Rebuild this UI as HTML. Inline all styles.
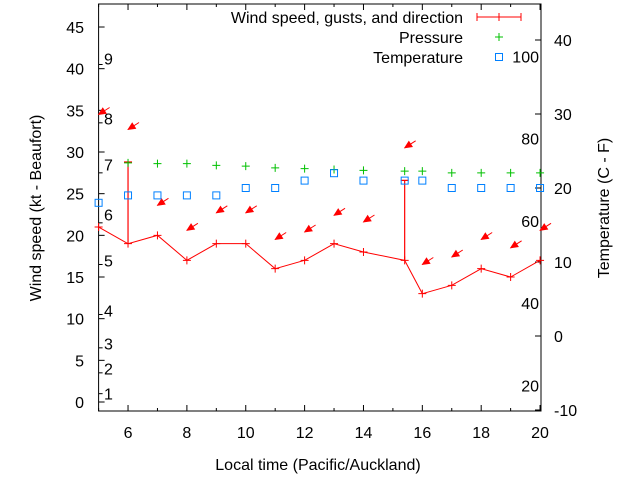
<!DOCTYPE html>
<html><head><meta charset="utf-8"><style>
body{margin:0;background:#fff}
svg{display:block;font-family:"Liberation Sans",sans-serif}
</style></head><body>
<svg id="chart" width="640" height="480" viewBox="0 0 640 480" xmlns="http://www.w3.org/2000/svg">
<g id="axes"></g>
<g id="marks"></g>
<g id="legend"></g>
</svg>
<script>
const hours=[5,6,7,8,9,10,11,12,13,14,15.4,16,17,18,19,20];
const wind=[21,19,20,17,19,19,16,17,19,18,17,13,14,16,15,17];
const gustHours=[6,15.4];
const gustBase=[19,17];
const gustValues=[28.8,26.6];
const dirArrowY=[34.5,32.7,23.6,20.6,22.7,22.7,19.5,20.4,22.4,21.6,30.5,16.5,17.4,19.5,18.5,20.6];
const pressure=[null,28.7,28.6,28.6,28.4,28.3,28.1,28.0,27.9,27.8,27.7,27.7,27.5,27.5,27.5,27.5];
const tempC=[18,19,19,19,19,20,20,21,22,21,21,21,20,20,20,20];
const leftTicks=[0,5,10,15,20,25,30,35,40,45];
const rightTicks=[-10,0,10,20,30,40];
const fTicks=[20,40,60,80,100];
const xTicks=[6,8,10,12,14,16,18,20];
const beaufort=[1,2,3,4,5,6,7,8,9];
const beaufortY=[1,4,7,11,17,22.5,28.5,34,41.2];
const beaufortBounds=[1,3.5,6.5,10.5,16.5,21.5,27.5,33.5,40.5];

const L=98.6,R=541,T=4,B=411,FS=16;
const X=t=>L+(t-5)*29.43;
const YL=v=>402-v*8.333;
const YR=c=>336-c*7.4;
const NS='http://www.w3.org/2000/svg';
function mk(p,tag,a){const e=document.createElementNS(NS,tag);for(const k in a)e.setAttribute(k,a[k]);p.appendChild(e);return e;}
const ax=document.getElementById('axes'),mg=document.getElementById('marks'),lg=document.getElementById('legend');

let e=mk(ax,'rect',{x:L,y:T,width:R-L,height:B-T,fill:'none',stroke:'#000','stroke-width':1});


leftTicks.forEach(v=>{const y=YL(v);
 mk(ax,'line',{x1:L,x2:L+6,y1:y,y2:y,stroke:'#000'});
 e=mk(ax,'text',{x:84,y:y+6,'text-anchor':'end','font-size':FS});e.textContent=v;
 
 });
beaufortBounds.forEach(v=>{const y=YL(v);mk(ax,'line',{x1:L,x2:L+4,y1:y,y2:y,stroke:'#000'});});
beaufort.forEach((b,i)=>{e=mk(ax,'text',{x:104,y:YL(beaufortY[i])+6,'font-size':FS});e.textContent=b;
 
 });
rightTicks.forEach(c=>{const y=YR(c);
 mk(ax,'line',{x1:R-6,x2:R,y1:y,y2:y,stroke:'#000'});
 e=mk(ax,'text',{x:554,y:y+6,'font-size':FS});e.textContent=c;
 
 });
fTicks.forEach(f=>{const y=YR((f-32)*5/9);
 e=mk(ax,'text',{x:539,y:y+6,'text-anchor':'end','font-size':FS});e.textContent=f;
 
 });
for(let t=5;t<=20;t++){const x=X(t);
 mk(ax,'line',{x1:x,x2:x,y1:B,y2:B-(t%2==0?6:3),stroke:'#000'});
 mk(ax,'line',{x1:x,x2:x,y1:T,y2:T+(t%2==0?6:3),stroke:'#000'});}
xTicks.forEach(t=>{e=mk(ax,'text',{x:X(t),y:438,'text-anchor':'middle','font-size':FS});e.textContent=t;
 
 });
e=mk(ax,'text',{x:318,y:470,'text-anchor':'middle','font-size':FS});e.textContent='Local time (Pacific/Auckland)';


e=mk(ax,'text',{x:0,y:0,'text-anchor':'middle','font-size':FS,transform:'translate(41,208) rotate(-90)'});e.textContent='Wind speed (kt - Beaufort)';


e=mk(ax,'text',{x:0,y:0,'text-anchor':'middle','font-size':FS,transform:'translate(609,208) rotate(-90)'});e.textContent='Temperature (C - F)';



const RED='#ff0000',GRN='#00c000',BLU='#0080ff';
function plus(p,x,y,c){mk(p,'path',{d:`M${x-4} ${y}H${x+4}M${x} ${y-4}V${y+4}`,stroke:c,'stroke-width':1});}
function square(p,x,y){mk(p,'rect',{x:x-3.5,y:y-3.5,width:7,height:7,fill:'none',stroke:BLU,'stroke-width':1});}
e=mk(mg,'polyline',{points:hours.map((h,i)=>X(h)+','+YL(wind[i])).join(' '),fill:'none',stroke:RED,'stroke-width':1});


hours.forEach((h,i)=>plus(mg,X(h),YL(wind[i]),RED));
gustHours.forEach((h,i)=>{const x=X(h);
 e=mk(mg,'path',{d:`M${x} ${YL(gustBase[i])}V${YL(gustValues[i])}M${x-4} ${YL(gustValues[i])}H${x+4}`,stroke:RED,'stroke-width':1.2});
 
 });
hours.forEach((h,i)=>{const x=X(h),y=YL(dirArrowY[i]);
 e=mk(mg,'g',{});
 
 
 mk(e,'line',{x1:x,y1:y,x2:x+11,y2:y-7,stroke:RED,'stroke-width':1});
 const bx=x+5.9,by=y-3.8,px=0.54*3.2,py=0.84*3.2;
 mk(e,'polygon',{points:`${x},${y} ${bx+px},${by+py} ${bx-px},${by-py}`,fill:RED,stroke:RED,'stroke-width':0.8});});
hours.forEach((h,i)=>{if(pressure[i]!=null)plus(mg,X(h),YL(pressure[i]),GRN);});
hours.forEach((h,i)=>square(mg,X(h),YR(tempC[i])));

const ltxt=['Wind speed, gusts, and direction','Pressure','Temperature'];
ltxt.forEach((t,i)=>{e=mk(lg,'text',{x:463,y:23+i*20,'text-anchor':'end','font-size':FS});e.textContent=t;
 
 });
mk(lg,'path',{d:'M477 17H521M477 13V21M521 13V21',stroke:RED});
plus(lg,499,17,RED);plus(lg,499,37,GRN);square(lg,499,57);
</script>
</body></html>
